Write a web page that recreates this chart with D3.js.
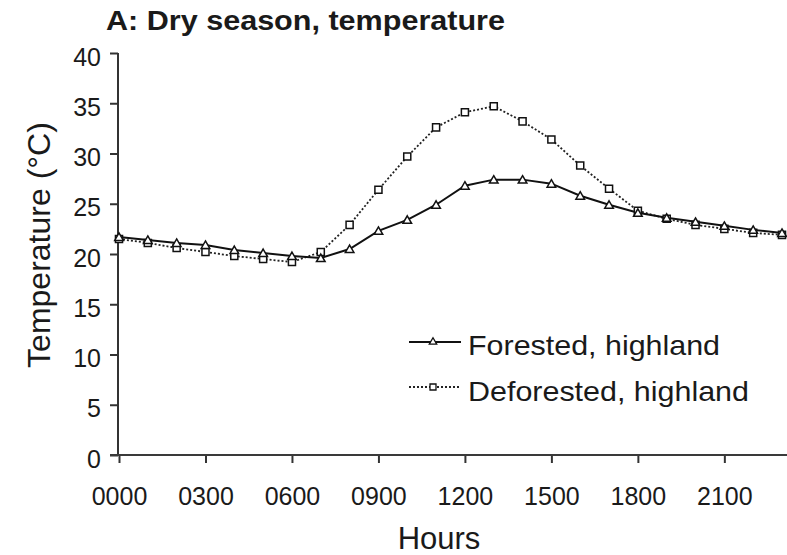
<!DOCTYPE html>
<html><head><meta charset="utf-8">
<script src="https://cdn.jsdelivr.net/npm/d3@7"></script>
<style>body{margin:0;background:#fff;} text{font-family:"Liberation Sans",Arial,sans-serif;fill:#1a1a1a;}</style>
</head><body><svg id="c" width="787" height="555"></svg>
<script>
const hours = d3.range(0, 24);
const forested = [21.7,21.4,21.1,20.9,20.4,20.1,19.8,19.6,20.5,22.3,23.4,24.9,26.8,27.4,27.4,27.0,25.8,24.9,24.1,23.6,23.2,22.8,22.4,22.1];
const deforested = [21.5,21.1,20.6,20.2,19.8,19.5,19.2,20.2,22.9,26.4,29.7,32.6,34.1,34.7,33.2,31.4,28.8,26.5,24.3,23.5,22.9,22.5,22.1,21.9];
const yTicks = [0,5,10,15,20,25,30,35,40];
const xTickHours = [0,3,6,9,12,15,18,21];
const xTickLabels = ["0000","0300","0600","0900","1200","1500","1800","2100"];
const seriesNames = ["Forested, highland","Deforested, highland"];

const svg = d3.select("#c");
const x = d3.scaleLinear().domain([0,23]).range([119,782]);
const y = d3.scaleLinear().domain([0,40]).range([455,53]);

const gy = svg.append("g").attr("transform","translate(118,0)")
  .call(d3.axisLeft(y).tickValues(yTicks).tickSize(8).tickPadding(9));
const gx = svg.append("g").attr("transform","translate(0,455)")
  .call(d3.axisBottom(x).tickValues(xTickHours).tickFormat((d,i)=>xTickLabels[i]).tickSize(8).tickPadding(24));
[gx,gy].forEach(g=>{
  g.select(".domain").remove();
  g.selectAll("line").attr("stroke","#333").attr("stroke-width",2);
  g.selectAll("text").style("font-size","25px").attr("fill","#1a1a1a");
});
gy.selectAll("text").attr("dy","0.48em");
svg.append("line").attr("x1",118).attr("x2",118).attr("y1",y(40)).attr("y2",455).attr("stroke","#333").attr("stroke-width",2);
svg.append("line").attr("x1",110).attr("x2",787).attr("y1",455).attr("y2",455).attr("stroke","#3a3a3a").attr("stroke-width",2.2);

const line = d3.line().x((d,i)=>x(hours[i])).y(d=>y(d));
svg.append("path").datum(deforested).attr("d",line).attr("fill","none")
  .attr("stroke","#222").attr("stroke-width",1.8).attr("stroke-dasharray","2,2");
svg.append("path").datum(forested).attr("d",line).attr("fill","none")
  .attr("stroke","#111").attr("stroke-width",2);

const tri = d3.symbol().type(d3.symbolTriangle).size(32);
const sq = d3.symbol().type(d3.symbolSquare).size(50);
svg.append("g").selectAll("path").data(deforested).join("path")
  .attr("d",sq).attr("transform",(d,i)=>`translate(${x(hours[i])},${y(d)})`)
  .attr("fill","#fff").attr("stroke","#111").attr("stroke-width",1.5);
svg.append("g").selectAll("path").data(forested).join("path")
  .attr("d",tri).attr("transform",(d,i)=>`translate(${x(hours[i])},${y(d)+1})`)
  .attr("fill","#fff").attr("stroke","#111").attr("stroke-width",1.5);

// legend
const lg = svg.append("g");
lg.append("line").attr("x1",409).attr("x2",461).attr("y1",342).attr("y2",342).attr("stroke","#111").attr("stroke-width",2.2);
lg.append("path").attr("d",d3.symbol().type(d3.symbolTriangle).size(24)).attr("transform","translate(433,342)").attr("fill","#fff").attr("stroke","#111").attr("stroke-width",1.3);
lg.append("text").attr("x",468).attr("y",355).style("font-size","28px").attr("textLength",252).attr("lengthAdjust","spacingAndGlyphs").text(seriesNames[0]);
lg.append("line").attr("x1",409).attr("x2",461).attr("y1",387).attr("y2",387).attr("stroke","#222").attr("stroke-width",1.8).attr("stroke-dasharray","2,2");
lg.append("path").attr("d",d3.symbol().type(d3.symbolSquare).size(36)).attr("transform","translate(433,387)").attr("fill","#fff").attr("stroke","#111").attr("stroke-width",1.3);
lg.append("text").attr("x",468).attr("y",401).style("font-size","28px").attr("textLength",281).attr("lengthAdjust","spacingAndGlyphs").text(seriesNames[1]);

// titles
svg.append("text").attr("x",106).attr("y",30).style("font-size","27px").style("font-weight","bold")
  .attr("textLength",399).attr("lengthAdjust","spacingAndGlyphs").text("A: Dry season, temperature");
svg.append("text").attr("x",439).attr("y",549).attr("text-anchor","middle").style("font-size","31px").text("Hours");
svg.append("text").attr("transform","translate(50,245) rotate(-90)").attr("text-anchor","middle").style("font-size","32px").text("Temperature (°C)");
</script></body></html>
